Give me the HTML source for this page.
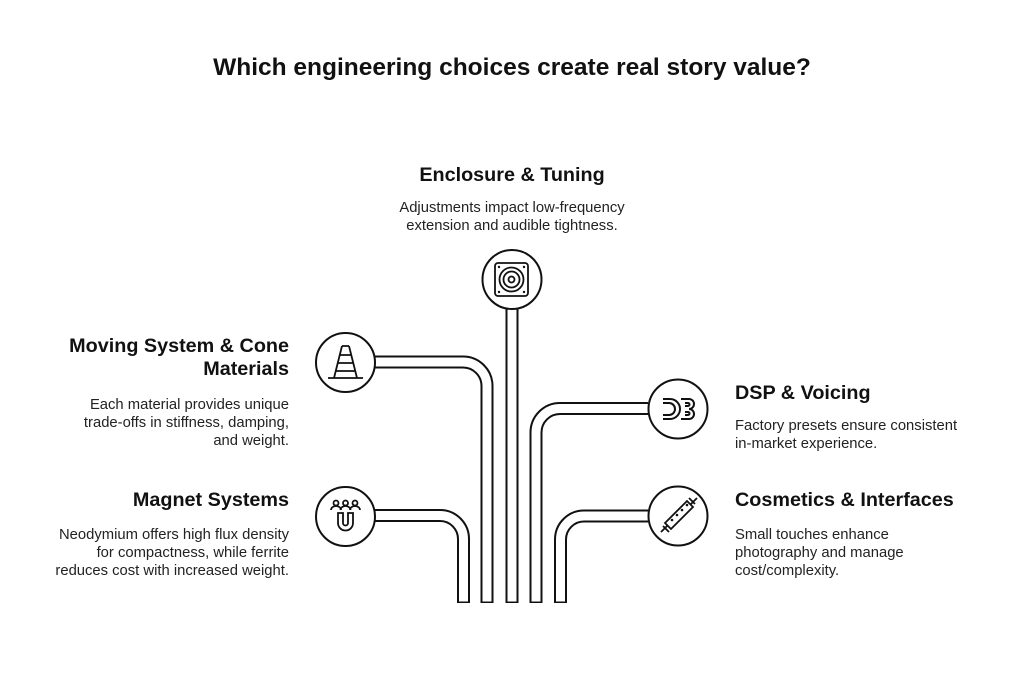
<!DOCTYPE html>
<html><head><meta charset="utf-8">
<style>
body{margin:0;background:#fff;}
.c{position:relative;width:1024px;height:685px;overflow:hidden;font-family:"Liberation Sans",Arial,sans-serif;color:#111;}
.t{position:absolute;white-space:nowrap;}
.h{font-weight:bold;font-size:19.8px;line-height:23px;}
.b{font-size:14.8px;line-height:18px;color:#222;}
.r{text-align:right;}
</style></head><body><div class="c">
<svg width="1024" height="685" style="position:absolute;left:0;top:0">
<g fill="none" stroke-linecap="butt">
 <g stroke="#111" stroke-width="13">
  <path d="M512 309 V603"/>
  <path d="M375 362 H463 A24 24 0 0 1 487 386 V603"/>
  <path d="M375 515.5 H440 A23.5 23.5 0 0 1 463.5 539 V603"/>
  <path d="M648 408.5 H560 A24 24 0 0 0 536 432.5 V603"/>
  <path d="M648 516 H584 A23.5 23.5 0 0 0 560.5 539.5 V603"/>
 </g>
 <g stroke="#fff" stroke-width="9">
  <path d="M512 309 V601.5"/>
  <path d="M375 362 H463 A24 24 0 0 1 487 386 V601.5"/>
  <path d="M375 515.5 H440 A23.5 23.5 0 0 1 463.5 539 V601.5"/>
  <path d="M648 408.5 H560 A24 24 0 0 0 536 432.5 V601.5"/>
  <path d="M648 516 H584 A23.5 23.5 0 0 0 560.5 539.5 V601.5"/>
 </g>
</g>
<g fill="#fff" stroke="#111" stroke-width="2">
 <circle cx="512" cy="279.5" r="29.5"/>
 <circle cx="345.5" cy="362.5" r="29.5"/>
 <circle cx="345.5" cy="516.5" r="29.5"/>
 <circle cx="678" cy="409" r="29.5"/>
 <circle cx="678" cy="516" r="29.5"/>
</g>
<g fill="none" stroke="#111" stroke-width="1.8">
 <rect x="495" y="263" width="33" height="33" rx="3"/>
 <circle cx="511.5" cy="279.5" r="12"/>
 <circle cx="511.5" cy="279.5" r="8"/>
 <circle cx="511.5" cy="279.5" r="3"/>
</g>
<g fill="#111"><circle cx="499" cy="267" r="1.2"/><circle cx="524" cy="267" r="1.2"/><circle cx="499" cy="292" r="1.2"/><circle cx="524" cy="292" r="1.2"/></g>
<g fill="none" stroke="#111" stroke-width="1.8">
 <path d="M328 378 H363"/>
 <path d="M342 346 L334 378 M349 346 L357 378 M342 346 H349"/>
 <path d="M340 355 H351 M338 363 H353 M336 371 H355"/>
</g>
<g fill="none" stroke="#111" stroke-width="1.8">
 <circle cx="336" cy="503" r="2.5"/><circle cx="345.5" cy="503" r="2.5"/><circle cx="355" cy="503" r="2.5"/>
 <path d="M331 510 a5 4 0 0 1 10 0 M340.5 510 a5 4 0 0 1 10 0 M350 510 a5 4 0 0 1 10 0"/>
 <path d="M338 513 V523 A7.5 7.5 0 0 0 353 523 V513 H348 V523 A2.5 2.5 0 0 1 343 523 V513 Z"/>
</g>
<g fill="none" stroke="#111" stroke-width="2">
 <path d="M663 399 H670 A10 10 0 0 1 670 419 H663 M663 403 H669 A6 6 0 0 1 669 415 H663"/>
 <path d="M681 399 H689 A5 5 0 0 1 689 409 A5 5 0 0 1 689 419 H681 M685 403 H688 A1.5 1.5 0 0 1 688 406 H685 M685 412 H688 A1.5 1.5 0 0 1 688 415 H685"/>
</g>
<g fill="none" stroke="#111" stroke-width="1.8">
 <path d="M665 523 L687 501 L693 507 L671 529 Z"/>
 <path d="M661 532 L667 526 M691 504 L697 498 M663 526 L669 532 M689 498 L695 504"/>
</g>
<g fill="#111"><circle cx="672" cy="520" r="1.3"/><circle cx="677" cy="515" r="1.3"/><circle cx="682" cy="510" r="1.3"/><circle cx="687" cy="505" r="1.3"/></g>
</svg>
<div class="t" style="left:0;width:1024px;top:54px;text-align:center;font-weight:bold;font-size:24.5px;">Which engineering choices create real story value?</div>
<div class="t h" style="left:312px;width:400px;top:164px;text-align:center;">Enclosure &amp; Tuning</div>
<div class="t b" style="left:312px;width:400px;top:199px;text-align:center;">Adjustments impact low-frequency<br>extension and audible tightness.</div>
<div class="t h r" style="left:0px;width:289px;top:335px;">Moving System &amp; Cone<br>Materials</div>
<div class="t b r" style="left:0px;width:289px;top:396px;">Each material provides unique<br>trade-offs in stiffness, damping,<br>and weight.</div>
<div class="t h r" style="left:0px;width:289px;top:489px;">Magnet Systems</div>
<div class="t b r" style="left:0px;width:289px;top:526px;">Neodymium offers high flux density<br>for compactness, while ferrite<br>reduces cost with increased weight.</div>
<div class="t h" style="left:735px;top:382px;">DSP &amp; Voicing</div>
<div class="t b" style="left:735px;top:417px;">Factory presets ensure consistent<br>in-market experience.</div>
<div class="t h" style="left:735px;top:489px;">Cosmetics &amp; Interfaces</div>
<div class="t b" style="left:735px;top:526px;">Small touches enhance<br>photography and manage<br>cost/complexity.</div>
</div></body></html>
